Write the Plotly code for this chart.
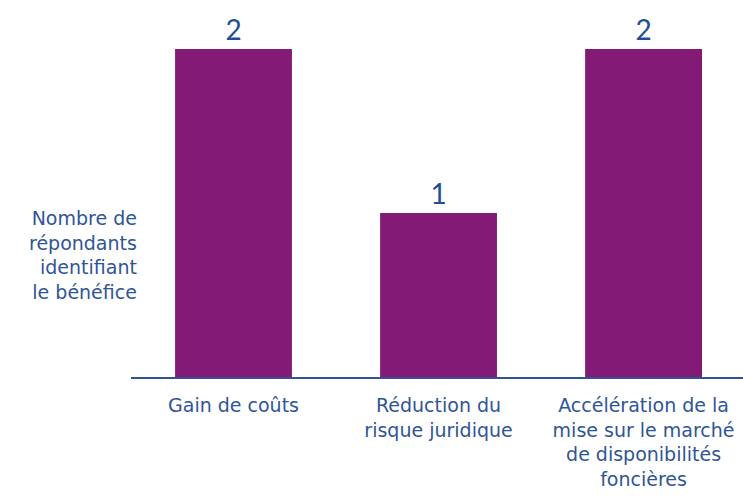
import plotly.graph_objects as go

categories = [
    "Gain de coûts",
    "Réduction du<br>risque juridique",
    "Accélération de la<br>mise sur le marché<br>de disponibilités<br>foncières",
]
values = [2, 1, 2]
y_title = "Nombre de<br>répondants<br>identifiant<br>le bénéfice"

BAR = "#831A75"
BLUE = "#2F5597"
TEXT_FONT = "DejaVu Sans"

fig = go.Figure(
    go.Bar(
        x=[0, 1, 2],
        y=values,
        marker=dict(color=BAR, line=dict(width=0)),
        text=[str(v) for v in values],
        textposition="outside",
        textfont=dict(family="Lato", size=28, color="#1F4E96"),
        cliponaxis=False,
        width=0.57,
        hoverinfo="skip",
    )
)

fig.update_layout(
    width=743,
    height=496,
    margin=dict(l=131, r=0, t=49, b=119),
    paper_bgcolor="white",
    plot_bgcolor="white",
    showlegend=False,
    font=dict(family=TEXT_FONT, size=19, color=BLUE),
    xaxis=dict(
        range=[-0.5, 2.485],
        tickmode="array",
        tickvals=[0, 1, 2],
        ticktext=categories,
        showline=True,
        linecolor=BLUE,
        linewidth=2,
        ticks="",
        showgrid=False,
        zeroline=False,
        tickfont=dict(family=TEXT_FONT, size=19, color=BLUE),
        ticklabelstandoff=10,
    ),
    yaxis=dict(
        range=[0, 2],
        visible=False,
        showgrid=False,
        zeroline=False,
    ),
    annotations=[
        dict(
            text=y_title,
            xref="paper",
            yref="paper",
            x=0,
            y=0.372,
            xshift=8,
            xanchor="right",
            yanchor="middle",
            align="right",
            showarrow=False,
            font=dict(family=TEXT_FONT, size=19, color=BLUE),
        )
    ],
)

fig.write_html("out.html")
